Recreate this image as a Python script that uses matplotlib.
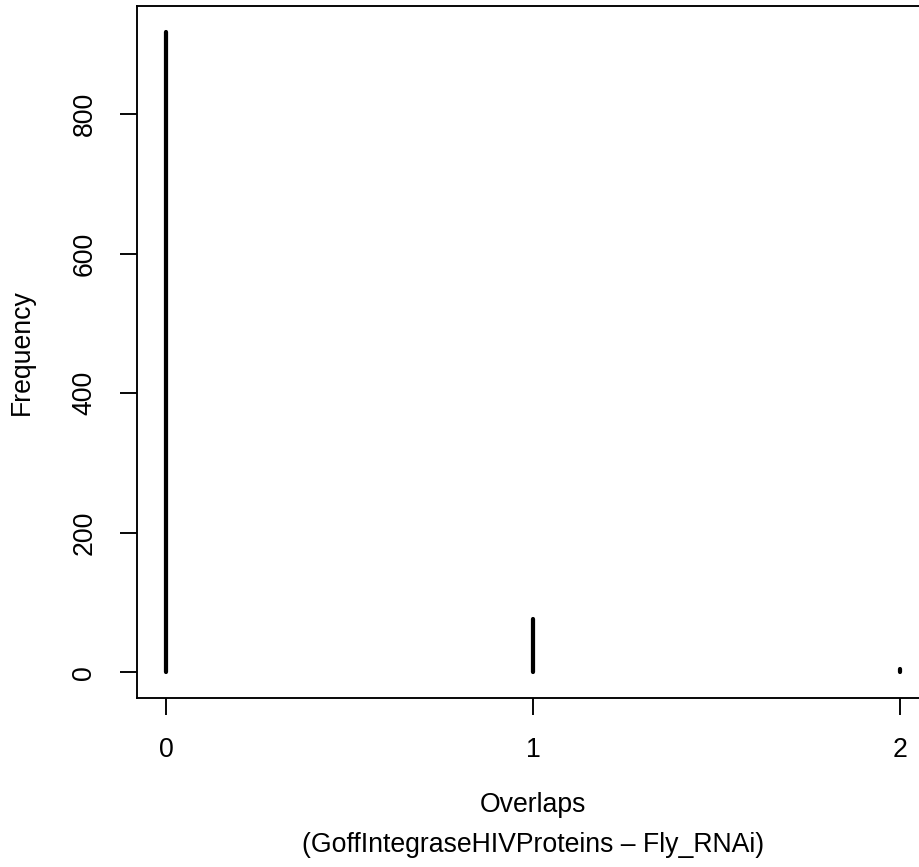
import matplotlib
matplotlib.use("Agg")
import matplotlib.pyplot as plt

# Frequency table of overlap counts
overlaps = [0, 1, 2]
frequency = [918, 77, 5]
x_ticks = [0, 1, 2]
y_ticks = [0, 200, 400, 600, 800]

W, H, DPI = 919, 867, 160
plt.rcParams['font.family'] = ['Liberation Sans', 'DejaVu Sans']
plt.rcParams['font.size'] = 12

fig = plt.figure(figsize=(W / DPI, H / DPI), dpi=DPI)

# plot box in pixel coordinates (right edge runs past the figure)
left_px, right_px, top_px, bottom_px = 136.6, 929.4, 6.0, 698.0
ax = fig.add_axes([left_px / W, (H - bottom_px) / H,
                   (right_px - left_px) / W, (bottom_px - top_px) / H])

# R-style 4% padding on both axes
xr = max(overlaps) - min(overlaps)
ymax = max(frequency)
ax.set_xlim(min(overlaps) - 0.04 * xr, max(overlaps) + 0.04 * xr)
ax.set_ylim(-0.04 * ymax, 1.04 * ymax)

ax.vlines(overlaps, 0, frequency, colors='black', linewidth=1.9, capstyle='round')

for s in ax.spines.values():
    s.set_linewidth(0.85)
    s.set_color('black')

ax.set_xticks(x_ticks)
ax.set_xticklabels([str(v) for v in x_ticks])
ax.set_yticks(y_ticks)
ax.set_yticklabels([str(v) for v in y_ticks], rotation=90, va='center')
ax.tick_params(direction='out', length=7.6, width=0.85, pad=10, labelsize=12)

fig.text(533 / W, 1 - 805 / H, "Overlaps", ha='center', va='center', fontsize=12)
fig.text(533 / W, 1 - 845 / H, "(GoffIntegraseHIVProteins – Fly_RNAi)", ha='center', va='center', fontsize=12)
fig.text(22 / W, 1 - 352 / H, "Frequency", ha='center', va='center', rotation=90, fontsize=12)

fig.savefig("out.png", dpi=DPI, facecolor='white')
